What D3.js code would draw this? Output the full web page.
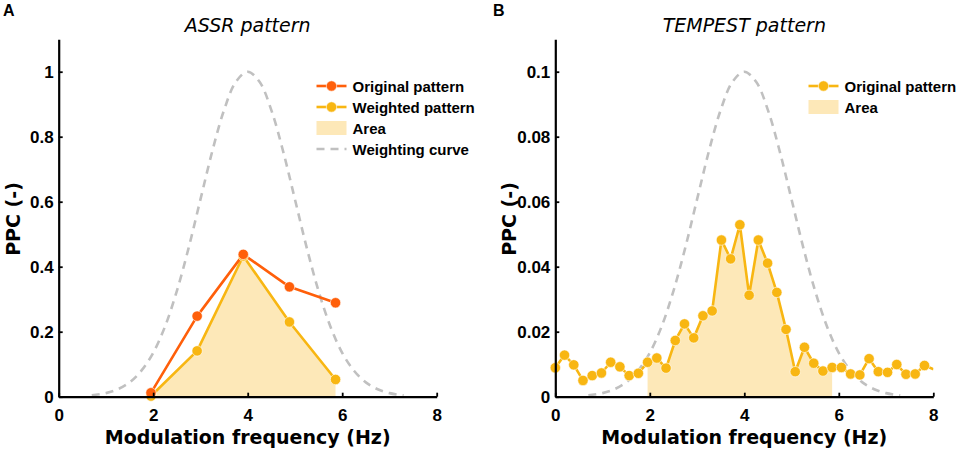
<!DOCTYPE html>
<html><head><meta charset="utf-8">
<script src="https://cdn.jsdelivr.net/npm/d3@7"></script>
<style>
body{margin:0;background:#fff;}
svg{display:block;}
</style></head>
<body>
<svg id="chart" width="957" height="450"></svg>
<script>
// ---- data ----
const assrFreq = [1.953, 2.930, 3.906, 4.883, 5.859];
const assrOriginal = [0.012, 0.248, 0.438, 0.338, 0.289];
const assrWeighted = [0.002, 0.141, 0.433, 0.230, 0.053];

const tempestFreq = [0.000,0.195,0.391,0.586,0.781,0.977,1.172,1.367,1.563,1.758,1.953,2.148,2.344,2.539,2.734,2.930,3.125,3.320,3.516,3.711,3.906,4.102,4.297,4.492,4.688,4.883,5.078,5.273,5.469,5.664,5.859,6.055,6.250,6.445,6.641,6.836,7.031,7.227,7.422,7.617,7.813,8.008];
const tempestOriginal = [0.0089,0.0128,0.0098,0.0050,0.0065,0.0073,0.0106,0.0092,0.0065,0.0072,0.0106,0.0119,0.0088,0.0173,0.0224,0.0181,0.0249,0.0264,0.0482,0.0424,0.0529,0.0312,0.0482,0.0411,0.0321,0.0207,0.0077,0.0152,0.0103,0.0079,0.0090,0.0090,0.0070,0.0067,0.0117,0.0077,0.0075,0.0099,0.0069,0.0070,0.0096,0.0084];

// weighting curve (relative to peak)
const weightFreq = [0.70,1.00,1.25,1.50,1.75,2.00,2.25,2.50,2.75,3.00,3.25,3.50,3.75,4.00,4.25,4.50,4.75,5.00,5.25,5.50,5.75,6.00,6.25,6.50,6.75,7.00,7.30];
const weightValue = [0.004,0.011,0.023,0.044,0.080,0.135,0.216,0.325,0.458,0.607,0.755,0.882,0.969,1.000,0.969,0.882,0.755,0.607,0.458,0.325,0.216,0.135,0.080,0.044,0.023,0.011,0.004];

const areaStart = 1.953, areaEnd = 5.859;
const xTicks = [0, 2, 4, 6, 8];
const yTicksA = [0, 0.2, 0.4, 0.6, 0.8, 1];
const yTicksB = [0, 0.02, 0.04, 0.06, 0.08, 0.1];

const C_ORANGE = "#ff5f0a", C_YELLOW = "#f8b612", C_AREA = "#fde8b8", C_GRAY = "#c0c0c0";
const BOLD = "'DejaVu Sans', Verdana, sans-serif";
const ARIAL = "'Liberation Sans', Arial, sans-serif";

const svg = d3.select("#chart");

function panel(opts){
  const g = svg.append("g");
  const x = d3.scaleLinear().domain([0, 8]).range([opts.left, opts.left + 378]);
  const y = d3.scaleLinear().domain([0, opts.ymax]).range([396.7, 396.7 - 1.1*325]);
  const clipId = "clip" + opts.id;
  svg.append("clipPath").attr("id", clipId).append("rect")
    .attr("x", x(0)).attr("y", y(opts.ymax)).attr("width", x(8)-x(0)).attr("height", y(0)-y(opts.ymax));
  const plot = g.append("g").attr("clip-path", `url(#${clipId})`);

  // weighting curve
  const wpts = weightFreq.map((f,i)=>[f, weightValue[i]*opts.wscale]);
  plot.append("path").datum(wpts)
    .attr("d", d3.line().x(d=>x(d[0])).y(d=>y(d[1])).curve(d3.curveCatmullRom))
    .attr("fill","none").attr("stroke",C_GRAY).attr("stroke-width",2.6).attr("stroke-dasharray","8,6");

  // area
  const apts = opts.areaFreq.map((f,i)=>[f, opts.areaVals[i]]).filter(d=>d[0]>=areaStart-1e-6 && d[0]<=areaEnd+1e-6);
  plot.append("path").datum(apts)
    .attr("d", d3.area().x(d=>x(d[0])).y0(y(0)).y1(d=>y(d[1])))
    .attr("fill", C_AREA).attr("stroke","none");

  // series
  opts.series.forEach(s=>{
    const pts = s.freq.map((f,i)=>[f, s.vals[i]]);
    plot.append("path").datum(pts)
      .attr("d", d3.line().x(d=>x(d[0])).y(d=>y(d[1])))
      .attr("fill","none").attr("stroke",s.color).attr("stroke-width",2.6).attr("stroke-linejoin","round");
    g.append("g").selectAll("circle").data(pts.filter(d=>d[0]<=8)).join("circle")
      .attr("cx",d=>x(d[0])).attr("cy",d=>y(d[1])).attr("r",5.2)
      .attr("fill",s.color).attr("stroke","#fff").attr("stroke-width",0.6);
  });

  // axes
  const xa = g.append("g").attr("transform",`translate(0,${y(0)})`)
    .call(d3.axisBottom(x).tickValues(xTicks).tickSize(-4).tickSizeOuter(0).tickPadding(12).tickFormat(d3.format("d")));
  const ya = g.append("g").attr("transform",`translate(${x(0)},0)`)
    .call(d3.axisLeft(y).tickValues(opts.yTicks).tickSize(-4).tickSizeOuter(0).tickPadding(5).tickFormat(d=>d===0?"0":String(d)));
  [xa, ya].forEach(a=>{
    a.select(".domain").attr("stroke","#000").attr("stroke-width",2.2);
    a.selectAll(".tick line").attr("stroke","#000").attr("stroke-width",1.8);
    a.selectAll(".tick text").attr("fill","#000").style("font-family",ARIAL).style("font-weight","bold").style("font-size","17px");
  });
  xa.selectAll(".tick text").attr("dy","0.71em");
  ya.selectAll(".tick text").attr("dy","0.36em");

  // titles
  g.append("text").attr("x",(x(0)+x(8))/2).attr("y",32).attr("text-anchor","middle")
    .style("font-family","'DejaVu Sans', sans-serif").style("font-style","italic").style("font-size","19px").text(opts.title);
  g.append("text").attr("x",(x(0)+x(8))/2).attr("y",444).attr("text-anchor","middle")
    .style("font-family",BOLD).style("font-weight","bold").style("font-size","19px").text("Modulation frequency (Hz)");
  g.append("text").attr("transform",`translate(${opts.left-39},219) rotate(-90)`).attr("text-anchor","middle")
    .style("font-family",BOLD).style("font-weight","bold").style("font-size","19px").text("PPC (-)");
  g.append("text").attr("x",opts.letterX).attr("y",15.5)
    .style("font-family",ARIAL).style("font-weight","bold").style("font-size","16px").text(opts.letter);

  // legend
  const lg = g.append("g");
  opts.legend.forEach((it,i)=>{
    const yy = 86 + i*21;
    const lx = opts.legX;
    if(it.type==="line"){
      lg.append("line").attr("x1",lx).attr("x2",lx+30).attr("y1",yy).attr("y2",yy).attr("stroke",it.color).attr("stroke-width",2.6);
      lg.append("circle").attr("cx",lx+15).attr("cy",yy).attr("r",5.2).attr("fill",it.color).attr("stroke","#fff").attr("stroke-width",0.6);
    } else if(it.type==="area"){
      lg.append("rect").attr("x",lx).attr("y",yy-7).attr("width",30).attr("height",14).attr("fill",C_AREA);
    } else {
      lg.append("line").attr("x1",lx).attr("x2",lx+30).attr("y1",yy).attr("y2",yy).attr("stroke",C_GRAY).attr("stroke-width",2.6).attr("stroke-dasharray","8,6");
    }
    lg.append("text").attr("x",lx+36).attr("y",yy+5.5)
      .style("font-family",ARIAL).style("font-weight","bold").style("font-size","15px").text(it.label);
  });
}

panel({id:"A", left:58.7, ymax:1.1, wscale:1, yTicks:yTicksA, title:"ASSR pattern", letter:"A", letterX:3, legX:316.5,
  areaFreq:assrFreq, areaVals:assrWeighted,
  series:[{freq:assrFreq, vals:assrWeighted, color:C_YELLOW},{freq:assrFreq, vals:assrOriginal, color:C_ORANGE}],
  legend:[{type:"line",color:C_ORANGE,label:"Original pattern"},{type:"line",color:C_YELLOW,label:"Weighted pattern"},{type:"area",label:"Area"},{type:"dash",label:"Weighting curve"}]});

panel({id:"B", left:555.3, ymax:0.11, wscale:0.1, yTicks:yTicksB, title:"TEMPEST pattern", letter:"B", letterX:493, legX:808.5,
  areaFreq:tempestFreq, areaVals:tempestOriginal,
  series:[{freq:tempestFreq, vals:tempestOriginal, color:C_YELLOW}],
  legend:[{type:"line",color:C_YELLOW,label:"Original pattern"},{type:"area",label:"Area"}]});
</script>
</body></html>
